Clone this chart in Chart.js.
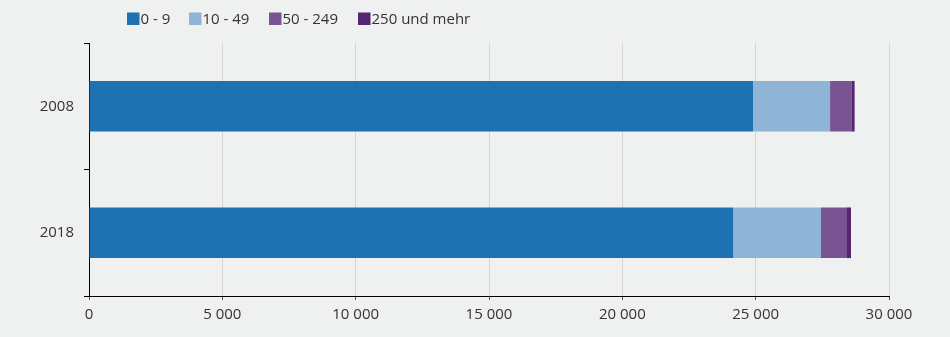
<!DOCTYPE html>
<html>
<head>
<meta charset="utf-8">
<style>
  html, body { margin: 0; padding: 0; background: #eff0f0; }
  #wrap { width: 950px; height: 337px; position: relative; }
</style>
<script src="https://cdn.jsdelivr.net/npm/chart.js@4/dist/chart.umd.min.js"></script>
</head>
<body>
<div id="wrap"><canvas id="c" width="950" height="337"></canvas></div>
<script>
// Unternehmen nach Beschäftigtengrößenklassen
const categories = ['2008', '2018'];
const seriesNames = ['0 - 9', '10 - 49', '50 - 249', '250 und mehr'];
const values0to9 = [24900, 24160];
const values10to49 = [2890, 3290];
const values50to249 = [820, 975];
const values250plus = [100, 150];
const xTicks = [0, 5000, 10000, 15000, 20000, 25000, 30000];
const colors = ['#1e72b2', '#8fb4d6', '#795392', '#562570'];

const FONT = "'Open Sans', sans-serif";
const TEXT = '#333333';

// left edges of the legend swatches
const legendX = [127, 189, 269, 358];

function fmt(v) {
  return String(v).replace(/\B(?=(\d{3})+(?!\d))/g, ' ');
}

// Compact legend: square swatch directly followed by the label
const legendPlugin = {
  id: 'compactLegend',
  afterDraw(chart) {
    const ctx = chart.ctx;
    ctx.save();
    ctx.font = '15px ' + FONT;
    ctx.textBaseline = 'middle';
    ctx.textAlign = 'left';
    const y = 12.5, box = 12.5;
    chart.data.datasets.forEach((ds, i) => {
      const x = legendX[i];
      ctx.fillStyle = ds.backgroundColor;
      ctx.fillRect(x, y, box, box);
      ctx.fillStyle = TEXT;
      ctx.fillText(ds.label, x + box + 1, y + box / 2 + 0.5);
    });
    ctx.restore();
  }
};

const bg = {
  id: 'bg',
  beforeDraw(chart) {
    const ctx = chart.ctx;
    ctx.save();
    ctx.fillStyle = '#eff0f0';
    ctx.fillRect(0, 0, chart.width, chart.height);
    ctx.restore();
  }
};

const seriesValues = [values0to9, values10to49, values50to249, values250plus];

new Chart(document.getElementById('c'), {
  type: 'bar',
  data: {
    labels: categories,
    datasets: seriesNames.map((name, i) => ({
      label: name,
      data: seriesValues[i],
      backgroundColor: colors[i],
      borderWidth: 0,
      barPercentage: 0.4,
      categoryPercentage: 1.0
    }))
  },
  options: {
    indexAxis: 'y',
    responsive: false,
    animation: false,
    devicePixelRatio: 1,
    layout: { padding: { top: 43, right: 61, left: 0, bottom: 0 } },
    plugins: {
      legend: { display: false },
      tooltip: { enabled: false }
    },
    scales: {
      x: {
        stacked: true,
        min: 0,
        max: 30000,
        afterBuildTicks(scale) { scale.ticks = xTicks.map(v => ({ value: v })); },
        afterFit(scale) { scale.height = 41; },
        grid: {
          color: '#d4d4d4',
          tickColor: '#555555',
          tickLength: 4,
          lineWidth: 1
        },
        border: { color: '#000000', width: 1 },
        ticks: {
          color: TEXT,
          font: { family: FONT, size: 15 },
          padding: 6,
          maxRotation: 0,
          callback: v => fmt(v)
        }
      },
      y: {
        stacked: true,
        afterFit(scale) { scale.width = 89; },
        grid: {
          drawOnChartArea: false,
          drawTicks: true,
          tickLength: 5,
          color: '#000000',
          offset: true
        },
        border: { color: '#000000', width: 1 },
        ticks: {
          color: TEXT,
          font: { family: FONT, size: 15 },
          padding: 10
        }
      }
    }
  },
  plugins: [bg, legendPlugin]
});
</script>
</body>
</html>
